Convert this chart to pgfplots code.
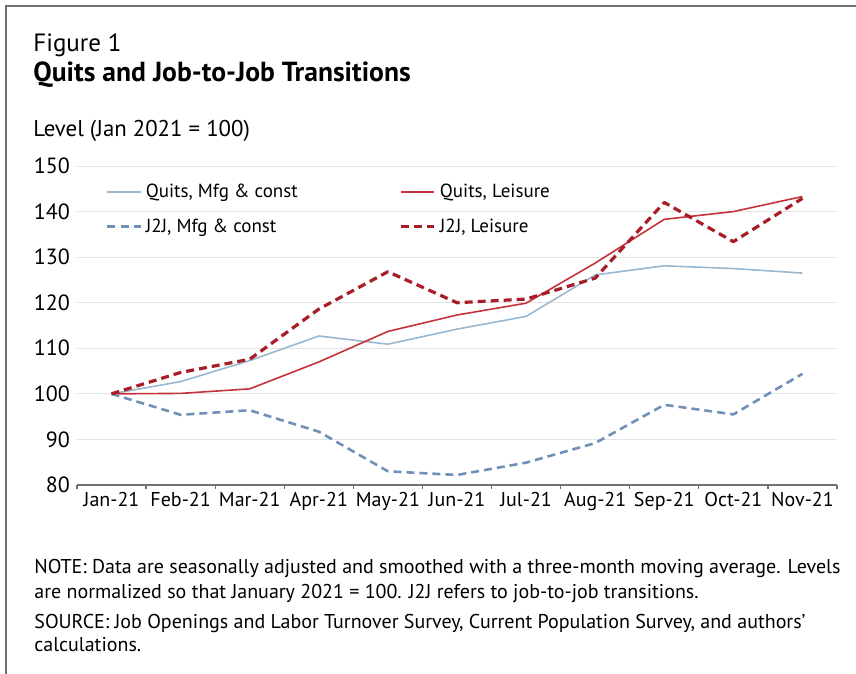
\documentclass[border=0pt]{standalone}
\usepackage{fontspec}
\setmainfont{PT Sans}
\newfontfamily\notefont{PT Sans}
\usepackage{pgfplots}
\pgfplotsset{compat=1.18}
\definecolor{qmfg}{HTML}{9AB7D0}
\definecolor{jmfg}{HTML}{7090B8}
\definecolor{qlei}{HTML}{C4323C}
\definecolor{jlei}{HTML}{A81E28}
\definecolor{axgray}{HTML}{707070}
\definecolor{gridgray}{HTML}{E4E4E4}
\begin{document}
\begin{tikzpicture}
\useasboundingbox (0,0) rectangle (428pt,337pt);
\draw[axgray, line width=0.7pt] (3pt,0) -- (3pt,334pt) -- (428pt,334pt);
\node[anchor=west, inner sep=0pt, font=\fontsize{12.5}{14}\selectfont] at (16.5pt,314.5pt) {Figure 1};
\node[anchor=west, inner sep=0pt, font=\fontsize{13.8}{15}\selectfont\bfseries] at (16.5pt,299.5pt) {Quits and Job-to-Job Transitions};
\node[anchor=west, inner sep=0pt, font=\fontsize{11.4}{13}\selectfont] at (16.5pt,271.5pt) {Level (Jan 2021 = 100)};
\begin{axis}[
  at={(38.5pt,94.5pt)}, anchor=south west, scale only axis,
  width=380pt, height=159.5pt,
  xmin=-0.5, xmax=10.5, ymin=80, ymax=150,
  ytick={80,90,...,150},
  xtick={0,...,10},
  xticklabels={Jan-21,Feb-21,Mar-21,Apr-21,May-21,Jun-21,Jul-21,Aug-21,Sep-21,Oct-21,Nov-21},
  minor xtick={-0.5,0.5,...,10.5},
  axis x line*=bottom, axis y line*=left,
  y axis line style={draw=none},
  x axis line style={axgray, line width=0.7pt},
  major tick length=0pt, minor tick length=2pt, tick align=outside,
  minor tick style={axgray, line width=0.6pt},
  ymajorgrids, grid style={gridgray, line width=0.5pt},
  /pgf/number format/assume math mode=true,
  yticklabel style={font=\fontsize{11}{12}\selectfont},
  xticklabel style={font=\fontsize{10}{11}\selectfont},
  legend columns=2,
  legend cell align=left,
  legend style={at={(0.03,0.97)}, anchor=north west, draw=none, fill=none,
    font=\fontsize{9.5}{11}\selectfont, row sep=5pt,
    nodes={inner xsep=2pt},
    /tikz/every even column/.append style={column sep=49pt}},
  legend image code/.code={\draw[#1] (0pt,0pt) -- (16.5pt,0pt);},
  line join=round,
]
\addplot[qmfg, line width=0.8pt] coordinates {(0,100) (1,102.7) (2,107.3) (3,112.7) (4,110.9) (5,114.2) (6,117) (7,126.1) (8,128.1) (9,127.5) (10,126.5)};
\addlegendentry{Quits, Mfg \& const}
\addplot[qlei, line width=0.8pt] coordinates {(0,100) (1,100.1) (2,101.1) (3,107) (4,113.7) (5,117.3) (6,119.9) (7,128.7) (8,138.3) (9,140) (10,143.3)};
\addlegendentry{Quits, Leisure}
\addplot[jmfg, line width=1.3pt, dash pattern=on 4pt off 2.5pt] coordinates {(0,100) (1,95.4) (2,96.4) (3,91.7) (4,83) (5,82.2) (6,84.9) (7,89.2) (8,97.6) (9,95.5) (10,104.4)};
\addlegendentry{J2J, Mfg \& const}
\addplot[jlei, line width=1.6pt, dash pattern=on 4pt off 2.5pt] coordinates {(0,100) (1,104.7) (2,107.6) (3,118.6) (4,126.8) (5,120) (6,120.8) (7,125.4) (8,142) (9,133.4) (10,142.9)};
\addlegendentry{J2J, Leisure}
\end{axis}
\node[anchor=west, inner sep=0pt, font=\notefont\fontsize{10}{11}\selectfont] at (17pt,52.5pt) {NOTE: Data are seasonally adjusted and smoothed with a three-month moving average. Levels};
\node[anchor=west, inner sep=0pt, font=\notefont\fontsize{10}{11}\selectfont] at (17pt,40pt) {are normalized so that January 2021 = 100. J2J refers to job-to-job transitions.};
\node[anchor=west, inner sep=0pt, font=\notefont\fontsize{10}{11}\selectfont] at (17pt,25pt) {SOURCE: Job Openings and Labor Turnover Survey, Current Population Survey, and authors’};
\node[anchor=west, inner sep=0pt, font=\notefont\fontsize{10}{11}\selectfont] at (17pt,14.5pt) {calculations.};
\end{tikzpicture}
\end{document}
